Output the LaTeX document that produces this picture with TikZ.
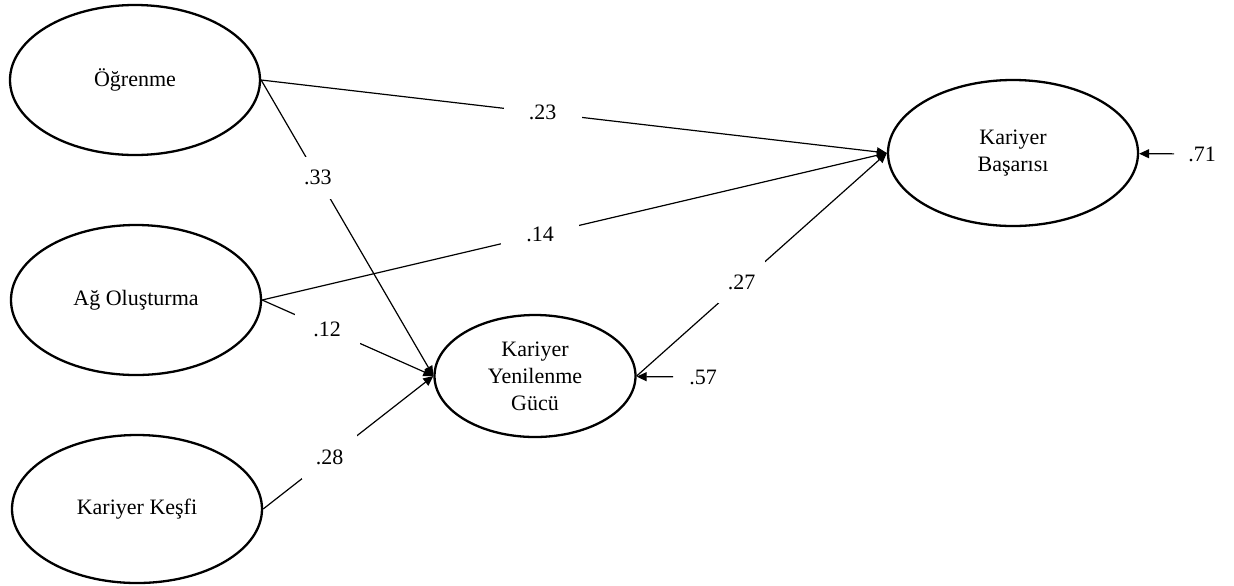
\documentclass[tikz,border=0pt]{standalone}
\usepackage{fontspec}
\setmainfont{Liberation Serif}
\usetikzlibrary{arrows.meta}
\usetikzlibrary{shapes.geometric}
\tikzset{latent/.style = {draw, ellipse, line width = 1.15pt, inner sep = 0,
                          align = center, minimum width = 125pt, minimum height = 75pt}}
\tikzset{arr/.style = {-{Triangle[length = 5pt, width = 4.5pt]}, line width = 0.6pt}}
\tikzset{coef/.style = {fill = white, inner sep = 0}}

\begin{document}
\begin{tikzpicture}[x = 0.5pt, y = -0.5pt, font = \fontsize{11}{13.5}\selectfont]
      \useasboundingbox (0, 0) rectangle (1234, 585);

      \node [latent] (ogr) at (135, 80) {Öğrenme};
      \node [latent] (ag) at (136, 300) {Ağ Oluşturma};
      \node [latent, minimum height = 74pt] (kesif) at (137, 509) {Kariyer Keşfi};
      \node [latent, minimum width = 100.5pt, minimum height = 61pt] (kyg) at (535, 376)
            {Kariyer\\Yenilenme\\Gücü};
      \node [latent, minimum height = 73pt] (kb) at (1013, 153) {Kariyer\\Başarısı};

      \node (e57) at (703, 377) {.57};
      \node (e71) at (1202, 154) {.71};

      \draw (ogr.east) edge [arr] node [coef, pos = 0.45, minimum width = 39pt,
            minimum height = 15pt] {.23} (kb.west);
      \draw (ag.east) edge [arr] node [coef, pos = 0.445, minimum width = 39pt,
            minimum height = 15pt] {.14} (kb.west);
      \draw (kyg.east) edge [arr] node [coef, pos = 0.42, minimum width = 23.5pt,
            minimum height = 21pt] {.27} (kb.west);

      \draw (ogr.east) edge [arr] node [coef, pos = 0.33, minimum width = 15pt,
            minimum height = 21pt] {.33} (kyg.west);
      \draw (ag.east) edge [arr] node [coef, pos = 0.38, minimum width = 32.5pt,
            minimum height = 20pt] {.12} (kyg.west);
      \draw (kesif.east) edge [arr] node [coef, pos = 0.39, minimum width = 27.5pt,
            minimum height = 22pt] {.28} (kyg.west);

      \draw [arr, shorten <= 4.5pt] (e57) -- (kyg);
      \draw [arr, shorten <= 3.5pt] (e71) -- (kb);
    \end{tikzpicture}
\end{document}
